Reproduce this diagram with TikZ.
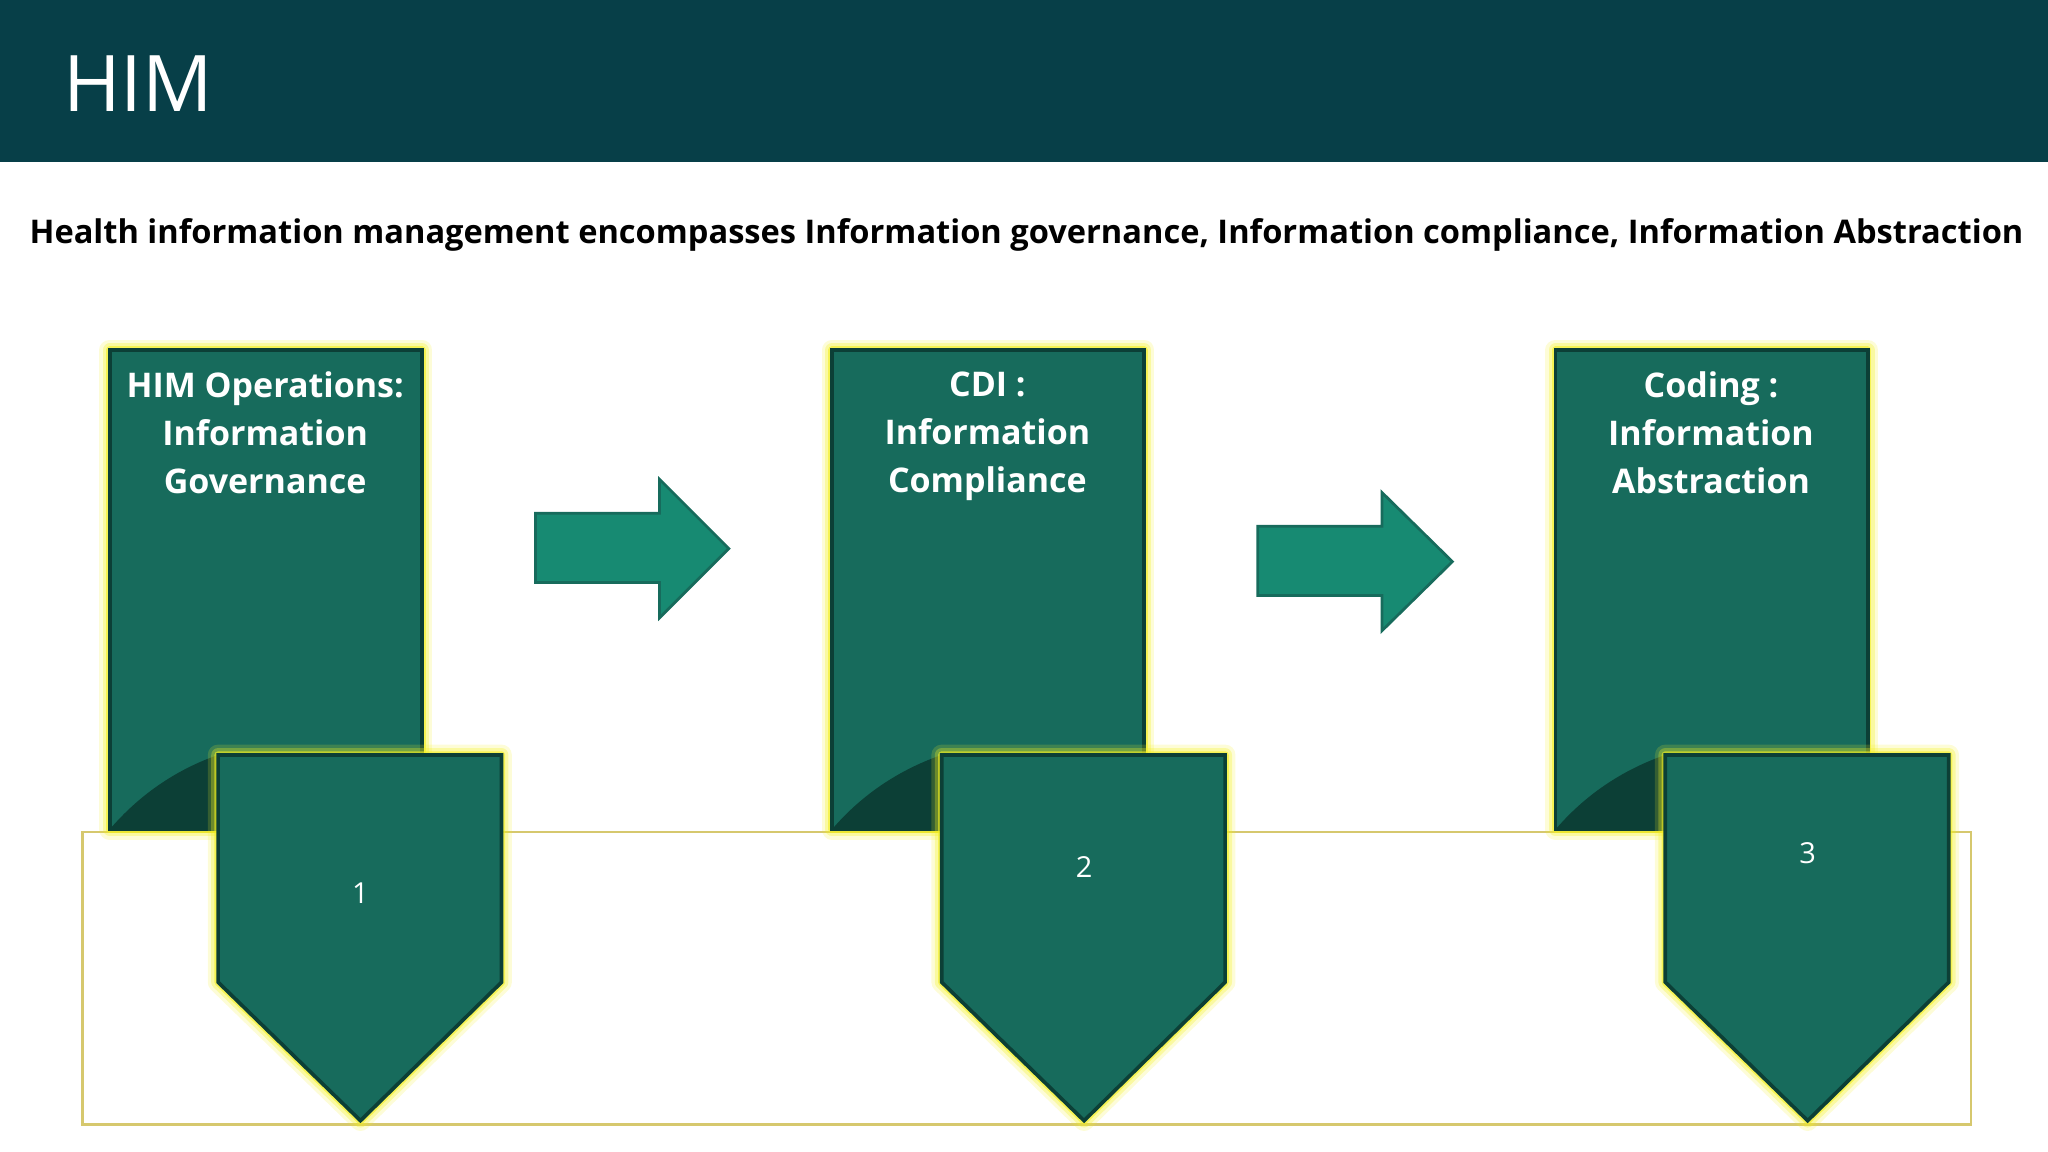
\documentclass[tikz,border=0pt]{standalone}
\usepackage{fontspec}
\setmainfont{Open Sans}
\begin{document}
\begin{tikzpicture}[x=0.01cm,y=-0.01cm]
\definecolor{hdr}{HTML}{073F48}
\definecolor{boxc}{HTML}{176B5C}
\definecolor{arr}{HTML}{178A72}
\definecolor{foldc}{HTML}{0C3F36}
\definecolor{glowc}{HTML}{F4F020}
\definecolor{frame}{HTML}{D6C86E}
\tikzset{
 glow/.style={preaction={draw=glowc,line width=4.5pt,opacity=0.18,line join=round},
              preaction={draw=glowc,line width=3pt,opacity=0.3,line join=round},
              preaction={draw=glowc,line width=1.6pt,opacity=0.6,line join=round}},
 card/.style={fill=boxc,draw=foldc,line width=0.8pt,glow},
 boxtext/.style={text=white,font=\fontsize{7.4}{10.5}\selectfont\bfseries,align=center,anchor=north},
 numtext/.style={text=white,font=\fontsize{6.3}{7.5}\selectfont},
 arrow/.style={fill=arr,draw=boxc,line width=0.6pt}
}
\useasboundingbox (0,0) rectangle (1568,882);
\fill[hdr] (0,0) rectangle (1568,124);
\node[anchor=west,text=white,font=\fontsize{17}{20}\selectfont] (title) at (36,64) {HIM};
\node[anchor=center,font=\fontsize{7.1}{9}\selectfont\bfseries] (sub) at (786,180) {Health information management encompasses Information governance, Information compliance, Information Abstraction};
\draw[frame,line width=0.6pt] (63,637) rectangle (1509,861);
\foreach \bx/\px/\ny/\n/\txt in {84/167/684/1/{HIM Operations:\\Information\\Governance},637/721/664/2/{CDI :\\Information\\Compliance},1191/1275/653/3/{Coding :\\Information\\Abstraction}}{
 \path[card] (\bx,268) rectangle (\bx+239,635);
 \node[boxtext] (t\n) at (\bx+119,272) {\txt};
 \path[fill=foldc] (\bx,635) .. controls (\bx+30,600) and (\px-20,585) .. (\px,578) -- (\px,635) -- cycle;
 \path[card] (\px,578) -- (\px+217,578) -- (\px+217,752) -- (\px+109,858) -- (\px,752) -- cycle;
 \node[numtext] (n\n) at (\px+109,\ny) {\n};
}
\path[arrow] (410,393) -- (505,393) -- (505,367) -- (558,420) -- (505,473) -- (505,446) -- (410,446) -- cycle;
\path[arrow] (963,403) -- (1058,403) -- (1058,377) -- (1112,430) -- (1058,483) -- (1058,456) -- (963,456) -- cycle;
\end{tikzpicture}
\end{document}
